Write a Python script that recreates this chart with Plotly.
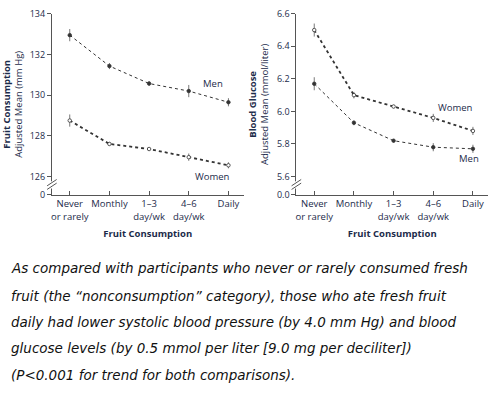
import plotly.graph_objects as go

categories = ["Never<br>or rarely", "Monthly", "1–3<br>day/wk", "4–6<br>day/wk", "Daily"]
xi = [0, 1, 2, 3, 4]

# Left panel: adjusted mean (mm Hg)
bp_men = [132.95, 131.43, 130.57, 130.2, 129.65]
bp_men_err = [0.3, 0.15, 0.12, 0.3, 0.2]
bp_women = [128.75, 127.6, 127.35, 126.95, 126.55]
bp_women_err = [0.3, 0.1, 0.08, 0.18, 0.15]

# Right panel: blood glucose (mmol/liter)
bg_women = [6.5, 6.1, 6.03, 5.96, 5.88]
bg_women_err = [0.04, 0.02, 0.01, 0.025, 0.025]
bg_men = [6.17, 5.93, 5.82, 5.78, 5.77]
bg_men_err = [0.04, 0.015, 0.01, 0.025, 0.025]

left_ticks = [126, 128, 130, 132, 134]
right_ticks = [5.6, 5.8, 6.0, 6.2, 6.4, 6.6]

caption = [
    "As compared with participants who never or rarely consumed fresh",
    "fruit (the “nonconsumption” category), those who ate fresh fruit",
    "daily had lower systolic blood pressure (by 4.0 mm Hg) and blood",
    "glucose levels (by 0.5 mmol per liter [9.0 mg per deciliter])",
    "(P<0.001 for trend for both comparisons).",
]

NAVY = "#1c2b4a"
LINE = "#333333"
FONT = "Open Sans"

fig = go.Figure()

def add_series(x, y, err, xa, ya, dash, width, filled):
    fig.add_trace(go.Scatter(
        x=x, y=y, xaxis=xa, yaxis=ya, mode="lines+markers",
        line=dict(color=LINE, width=width, dash=dash),
        marker=dict(size=3.5, symbol="circle",
                    color=LINE if filled else "white",
                    line=dict(color=LINE, width=0.8)),
        error_y=dict(type="data", array=err, visible=True, width=0,
                     thickness=0.8, color="#555555"),
        showlegend=False, cliponaxis=False,
    ))

add_series(xi, bp_men, bp_men_err, "x", "y", "dot", 1, True)
add_series(xi, bp_women, bp_women_err, "x", "y", "dot", 1.8, False)
add_series(xi, bg_women, bg_women_err, "x2", "y2", "dot", 1.8, False)
add_series(xi, bg_men, bg_men_err, "x2", "y2", "dot", 1, True)

W, H = 490, 412
top_px, bot_px = 7, 194
ydom = [(H - bot_px) / H, (H - top_px) / H]

# axis ranges with break at bottom
l_lo = 126 - (bot_px - 175) / 21.0
r_lo = 5.6 - (bot_px - 175) / 168.0

xcommon = dict(
    range=[-0.45, 4.38], tickvals=xi, ticktext=categories,
    showline=True, linecolor="#555555", linewidth=1,
    ticks="inside", ticklen=4, tickcolor="#555555",
    tickfont=dict(family=FONT, size=9.5, color=NAVY),
    showgrid=False, zeroline=False,
    title=dict(text="<b>Fruit Consumption</b>", font=dict(family=FONT, size=9.5, color=NAVY), standoff=8),
)
fig.update_layout(
    width=W, height=H,
    margin=dict(l=0, r=0, t=0, b=0),
    plot_bgcolor="white", paper_bgcolor="white",
    xaxis=dict(domain=[51 / W, 243 / W], anchor="y", **xcommon),
    xaxis2=dict(domain=[296 / W, 488 / W], anchor="y2", **xcommon),
    yaxis=dict(
        domain=ydom, anchor="x", range=[l_lo, 134],
        tickvals=[l_lo] + left_ticks, ticktext=["0"] + [str(t) for t in left_ticks],
        showline=True, linecolor="#555555", linewidth=1,
        ticks="outside", ticklen=4, tickcolor="#555555",
        tickfont=dict(family=FONT, size=9, color=NAVY),
        showgrid=False, zeroline=False,
        title=dict(text="<b>Fruit Consumption</b><br>Adjusted Mean (mm Hg)",
                   font=dict(family=FONT, size=9.5, color=NAVY), standoff=6),
    ),
    yaxis2=dict(
        domain=ydom, anchor="x2", range=[r_lo, 6.6],
        tickvals=[r_lo] + right_ticks, ticktext=["0.0"] + [f"{t:.1f}" for t in right_ticks],
        showline=True, linecolor="#555555", linewidth=1,
        ticks="outside", ticklen=4, tickcolor="#555555",
        tickfont=dict(family=FONT, size=9, color=NAVY),
        showgrid=False, zeroline=False,
        title=dict(text="<b>Blood Glucose</b><br>Adjusted Mean (mmol/liter)",
                   font=dict(family=FONT, size=9.5, color=NAVY), standoff=6),
    ),
)

# axis break marks
for xr, yr in (("x domain", "y domain"), ("x2 domain", "y2 domain")):
    fig.add_shape(type="rect", xref=xr, yref=yr, x0=-0.012, x1=0.012, y0=0.035, y1=0.075,
                  fillcolor="white", line=dict(width=0), layer="above")
    for y0 in (0.03, 0.05):
        fig.add_shape(type="line", xref=xr, yref=yr, x0=-0.025, x1=0.025,
                      y0=y0, y1=y0 + 0.035, line=dict(color="#555555", width=1), layer="above")

lab_font = dict(family=FONT, size=9.5, color=NAVY)
fig.add_annotation(x=3.6, y=130.55, xref="x", yref="y", text="Men", showarrow=False, font=lab_font)
fig.add_annotation(x=3.6, y=126.0, xref="x", yref="y", text="Women", showarrow=False, font=lab_font)
fig.add_annotation(x=3.55, y=5.97, xref="x2", yref="y2", text="Women", showarrow=False, font=lab_font, yanchor="bottom")
fig.add_annotation(x=3.9, y=5.71, xref="x2", yref="y2", text="Men", showarrow=False, font=lab_font)

line_y = [270, 298, 325, 352, 380]
for txt, yp in zip(caption, line_y):
    fig.add_annotation(x=8 / W, y=1 - yp / H, xref="paper", yref="paper", text=f"<i>{txt}</i>",
                       showarrow=False, xanchor="left", yanchor="middle",
                       font=dict(family="DejaVu Sans", size=13.5, color="#111111"))

fig.write_html("out.html")
